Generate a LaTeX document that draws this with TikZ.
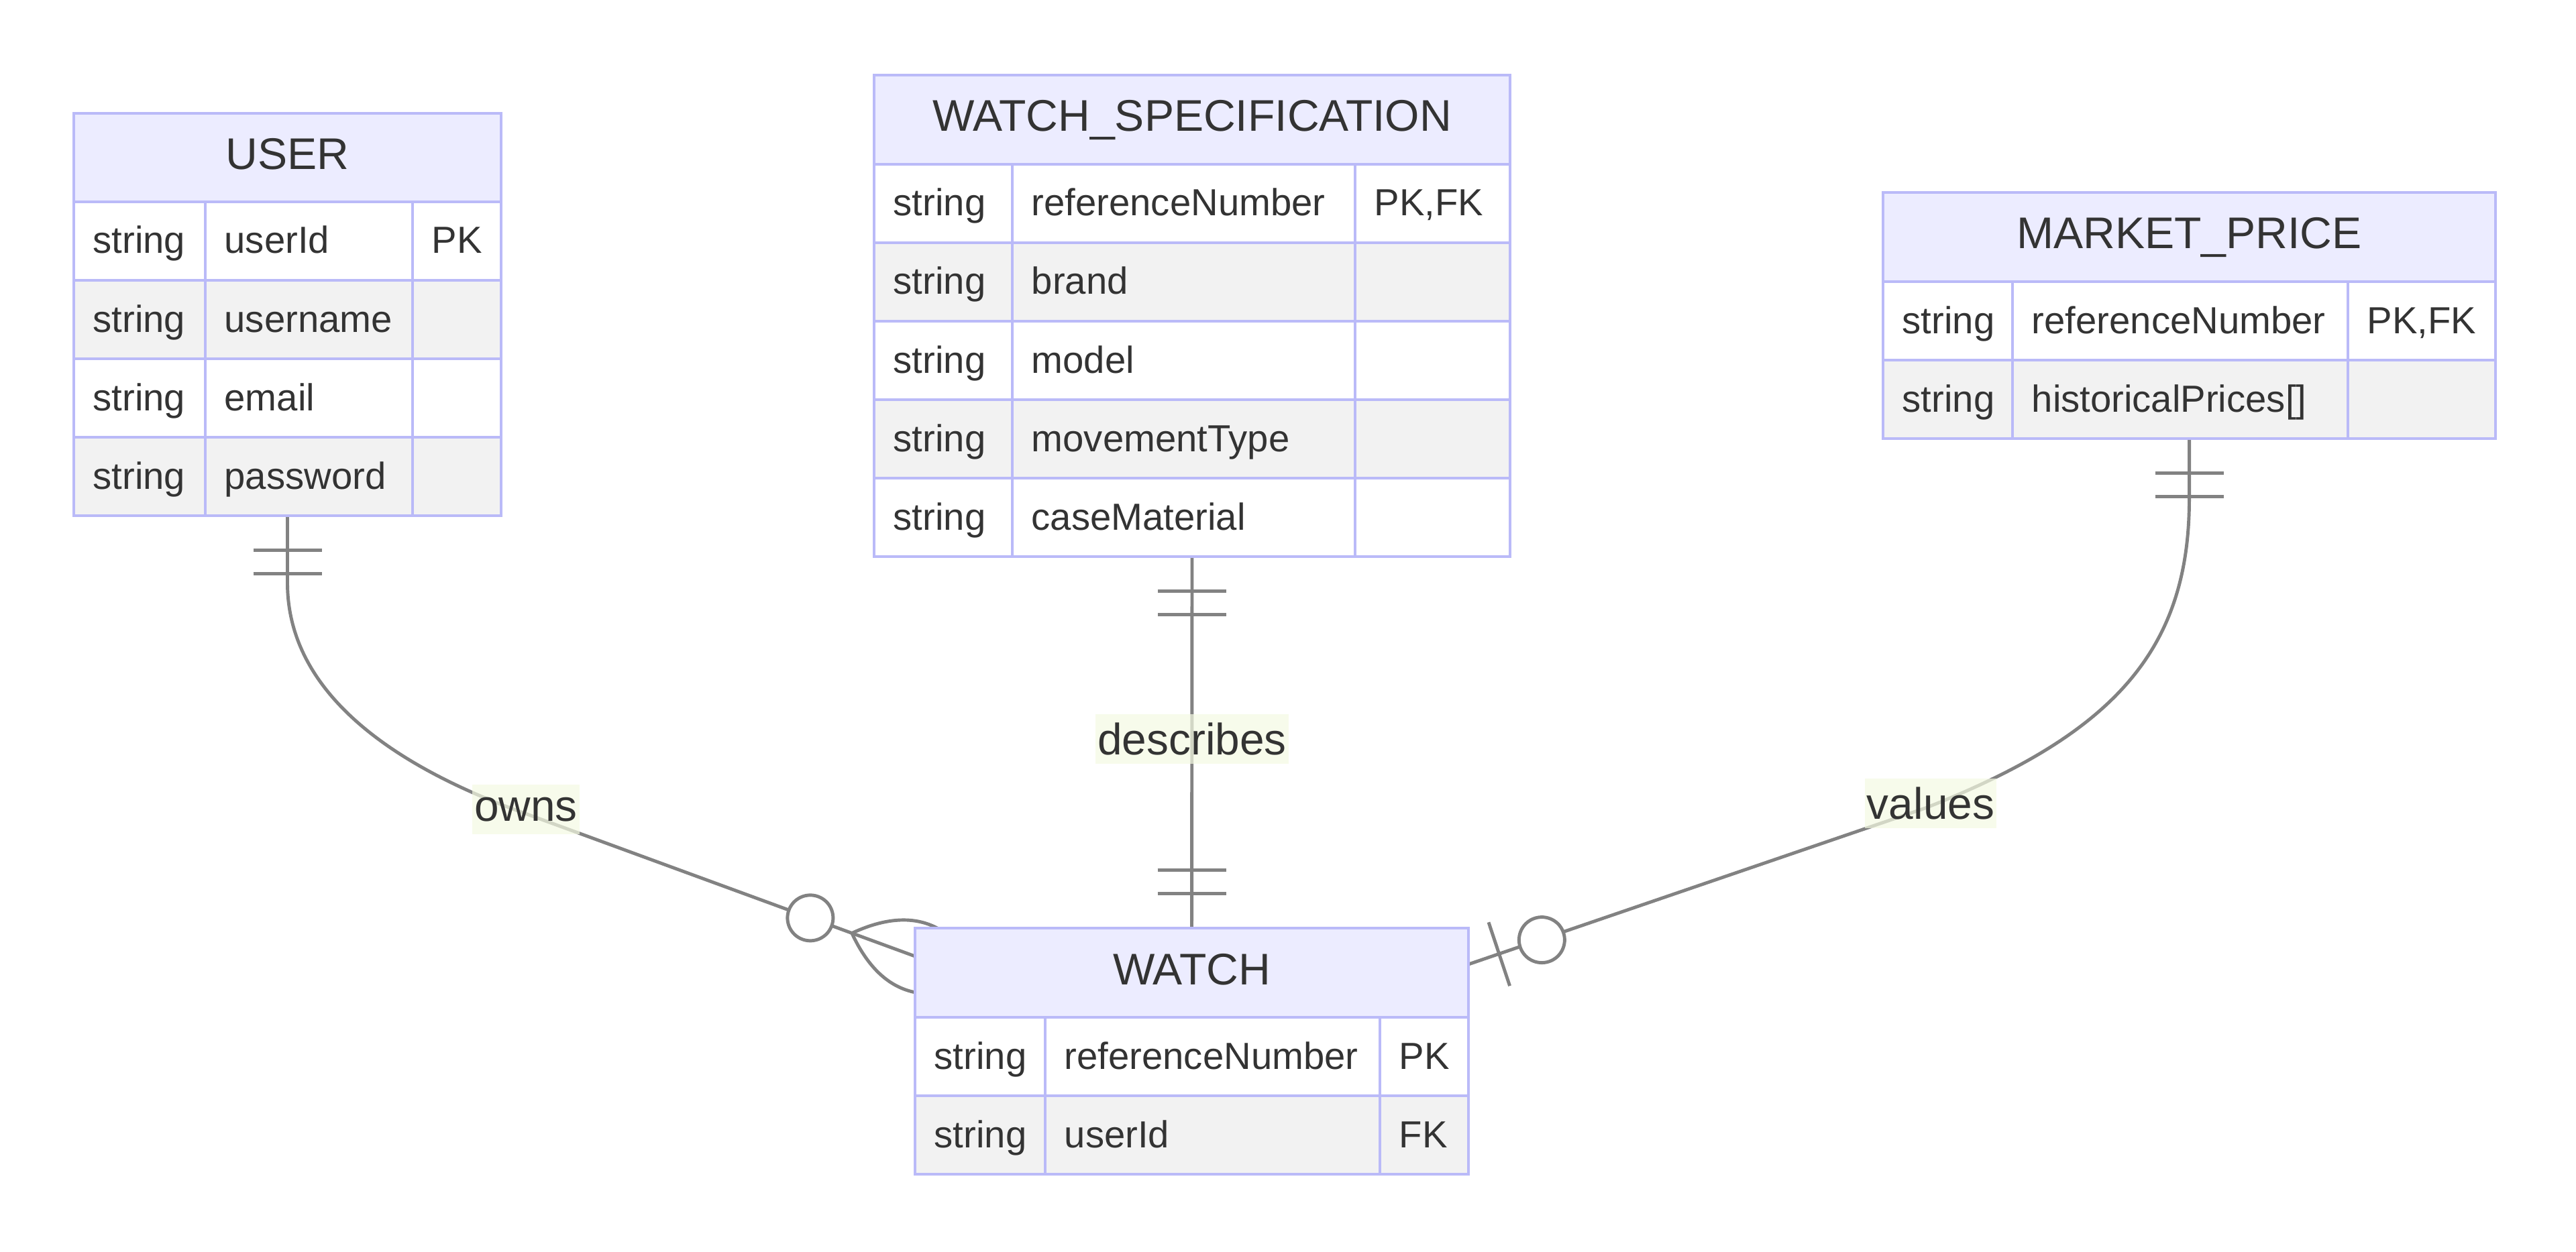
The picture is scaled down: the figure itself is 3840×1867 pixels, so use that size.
\documentclass[tikz,border=0pt]{standalone}
\usepackage{xcolor}
\usepackage{fontspec}
\setmainfont{Liberation Sans}
\usetikzlibrary{backgrounds,calc}

\definecolor{erborder}{RGB}{186,186,248}
\definecolor{erhead}{RGB}{236,236,255}
\definecolor{erodd}{RGB}{242,242,242}
\definecolor{ertext}{RGB}{51,51,51}
\definecolor{erline}{RGB}{130,130,130}
\definecolor{erlabel}{RGB}{244,250,226}

\begin{document}
\begin{tikzpicture}[x=0.01cm, y=-0.01cm,
  entity/.style={draw=erborder, fill=white, line width=1.2pt, inner sep=0pt, outer sep=0pt},
  grid/.style={draw=erborder, line width=1.2pt},
  title/.style={anchor=base, text=ertext, inner sep=0pt, font=\fontsize{18.8}{22}\selectfont},
  attr/.style={anchor=base west, text=ertext, inner sep=0pt, font=\fontsize{16}{19}\selectfont},
  rel/.style={draw=erline, line width=1.4pt},
  rellabel/.style={fill=erlabel, fill opacity=0.7, text opacity=1, text=ertext, inner xsep=0.03cm, minimum height=0.73cm, font=\fontsize{18.7}{22}\selectfont}]
\useasboundingbox (0,0) rectangle (3840,1867);

% USER
\node[entity, minimum width=6.37cm, minimum height=6cm] (user) at (428.5,469) {};
\filldraw[grid, fill=erhead] (user.north west) rectangle ++(637,132);
\node[title] (user-title) at (428.5,253) {USER};
\foreach \c/\t/\n/\k [count=\i from 0] in {white/string/userId/PK, erodd/string/username/{}, white/string/email/{}, erodd/string/password/{}} {
  \filldraw[grid, fill=\c] (110,301+117*\i) rectangle (747,418+117*\i);
  \draw[grid] (306,301+117*\i) -- ++(0,117) (615,301+117*\i) -- ++(0,117);
  \node[attr] (user-t\i) at (138,378+117*\i) {\t};
  \node[attr] (user-n\i) at (334,378+117*\i) {\n};
  \node[attr] (user-k\i) at (643,378+117*\i) {\k};
}

% WATCH_SPECIFICATION
\node[entity, minimum width=9.48cm, minimum height=7.18cm] (wspec) at (1777,471) {};
\filldraw[grid, fill=erhead] (wspec.north west) rectangle ++(948,133);
\node[title] (wspec-title) at (1777,196) {WATCH\_SPECIFICATION};
\foreach \c/\t/\n/\k [count=\i from 0] in {white/string/referenceNumber/{PK,FK}, erodd/string/brand/{}, white/string/model/{}, erodd/string/movementType/{}, white/string/caseMaterial/{}} {
  \filldraw[grid, fill=\c] (1303,245+117*\i) rectangle (2251,362+117*\i);
  \draw[grid] (1509,245+117*\i) -- ++(0,117) (2020,245+117*\i) -- ++(0,117);
  \node[attr] (wspec-t\i) at (1331,322+117*\i) {\t};
  \node[attr] (wspec-n\i) at (1537,322+117*\i) {\n};
  \node[attr] (wspec-k\i) at (2048,322+117*\i) {\k};
}

% MARKET_PRICE
\node[entity, minimum width=9.13cm, minimum height=3.67cm] (mprice) at (3263.5,470.5) {};
\filldraw[grid, fill=erhead] (mprice.north west) rectangle ++(913,133);
\node[title] (mprice-title) at (3263.5,371) {MARKET\_PRICE};
\foreach \c/\t/\n/\k [count=\i from 0] in {white/string/referenceNumber/{PK,FK}, erodd/string/historicalPrices[]/{}} {
  \filldraw[grid, fill=\c] (2807,420+117*\i) rectangle (3720,537+117*\i);
  \draw[grid] (3000,420+117*\i) -- ++(0,117) (3500,420+117*\i) -- ++(0,117);
  \node[attr] (mprice-t\i) at (2835,497+117*\i) {\t};
  \node[attr] (mprice-n\i) at (3028,497+117*\i) {\n};
  \node[attr] (mprice-k\i) at (3528,497+117*\i) {\k};
}

% WATCH
\node[entity, minimum width=8.25cm, minimum height=3.67cm] (watch) at (1776.5,1567.5) {};
\filldraw[grid, fill=erhead] (watch.north west) rectangle ++(825,133);
\node[title] (watch-title) at (1776.5,1468) {WATCH};
\foreach \c/\t/\n/\k [count=\i from 0] in {white/string/referenceNumber/PK, erodd/string/userId/FK} {
  \filldraw[grid, fill=\c] (1364,1517+117*\i) rectangle (2189,1634+117*\i);
  \draw[grid] (1558,1517+117*\i) -- ++(0,117) (2057,1517+117*\i) -- ++(0,117);
  \node[attr] (watch-t\i) at (1392,1594+117*\i) {\t};
  \node[attr] (watch-n\i) at (1586,1594+117*\i) {\n};
  \node[attr] (watch-k\i) at (2085,1594+117*\i) {\k};
}

% relationships
\coordinate (ownsend) at ($(watch.north west)+(0,42)$);
\coordinate (valuesend) at ($(watch.north east)+(0,54)$);
\begin{scope}[on background layer]
\draw[rel] (user.south) -- ++(0,100) .. controls (428.5,1030) and (580,1140) .. (780,1212) -- (ownsend);
\draw[rel] (wspec.south) -- (watch.north);
\draw[rel] (mprice.south) -- ++(0,90) .. controls (3263.5,970) and (3150,1095) .. (2870,1205) -- (valuesend);
\foreach \d in {51,86} {
  \draw[rel] ($(user.south)+(-51,\d)$) -- ++(102,0);
  \draw[rel] ($(wspec.south)+(-51,\d)$) -- ++(102,0);
  \draw[rel] ($(watch.north)+(-51,-\d)$) -- ++(102,0);
  \draw[rel] ($(mprice.south)+(-51,\d)$) -- ++(102,0);
}
% zero or more
\begin{scope}[shift={(ownsend)}, rotate=-20.1]
  \draw[rel] (-100,0) .. controls (-31,-69) and (37,-69) .. (106,0) .. controls (37,69) and (-31,69) .. (-100,0);
  \draw[rel, fill=white] (-166,0) circle[radius=34];
\end{scope}
% zero or one
\begin{scope}[shift={(valuesend)}, rotate=198.4]
  \draw[rel] (-48,-50) -- (-48,50);
  \draw[rel, fill=white] (-115,0) circle[radius=34];
\end{scope}
\end{scope}

\node[rellabel] (owns) at (784,1207) {owns};
\node[rellabel] (describes) at (1777,1102) {describes};
\node[rellabel] (values) at (2878,1198) {values};
\end{tikzpicture}
\end{document}
